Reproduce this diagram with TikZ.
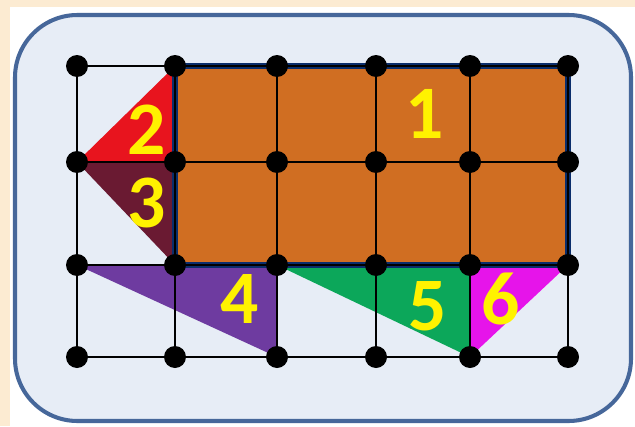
\documentclass[tikz,border=0pt]{standalone}
\usepackage{fontspec}
\newfontfamily\numfont{Carlito}
\definecolor{peach}{HTML}{FCEBD2}
\definecolor{panel}{HTML}{E7EDF6}
\definecolor{panelline}{HTML}{46679A}
\definecolor{brick}{HTML}{D06E22}
\definecolor{navy}{HTML}{0A2D6B}
\definecolor{redpiece}{HTML}{E8141E}
\definecolor{maroon}{HTML}{6A1A32}
\definecolor{violet}{HTML}{6E3BA0}
\definecolor{greenpiece}{HTML}{0CA75A}
\definecolor{pink}{HTML}{E614EA}
\begin{document}
\begin{tikzpicture}[x=0.02cm, y=-0.02cm,
    gridline/.style={black, line width=1.1pt},
    dot/.style={circle, fill=black, inner sep=0pt, minimum size=0.44cm},
    num/.style={text=yellow, font=\numfont\bfseries\fontsize{43}{43}\selectfont, inner sep=0pt}]
\fill[peach] (0,0) rectangle (635,426);
\useasboundingbox (0,0) rectangle (635,426);
\fill[white] (10,7) rectangle (635,426);
\draw[panelline, fill=panel, line width=2.3pt, rounded corners=1.25cm] (15,15) rectangle (631,421);
\foreach \x [count=\i] in {77,175,277,376,470,568}
  \foreach \y [count=\j] in {66,162,265,357}
    \coordinate (p\i\j) at (\x,\y);
\fill[redpiece] (p21) -- (p12) -- (p22) -- cycle;
\fill[maroon] (p12) -- (p22) -- (p23) -- cycle;
\fill[violet] (p13) -- (p33) -- (p34) -- cycle;
\fill[greenpiece] (p33) -- (p53) -- (p54) -- cycle;
\fill[pink] (p53) -- (p63) -- (p54) -- cycle;
\draw[navy, fill=brick, line width=3pt] (p21) rectangle (p63);
\foreach \i in {1,...,6}
  \draw[gridline] (p\i1) -- (p\i4);
\foreach \j in {1,...,4}
  \draw[gridline] (p1\j) -- (p6\j);
\foreach \i in {1,...,6}
  \foreach \j in {1,...,4}
    \node[dot] (d\i\j) at (p\i\j) {};
\node[num] (n1) at (425,114) {1};
\node[num] (n2) at (147,130) {2};
\node[num] (n3) at (147,203) {3};
\node[num] (n4) at (240,299) {4};
\node[num] (n5) at (428,306) {5};
\node[num] (n6) at (501,299) {6};
\end{tikzpicture}
\end{document}
